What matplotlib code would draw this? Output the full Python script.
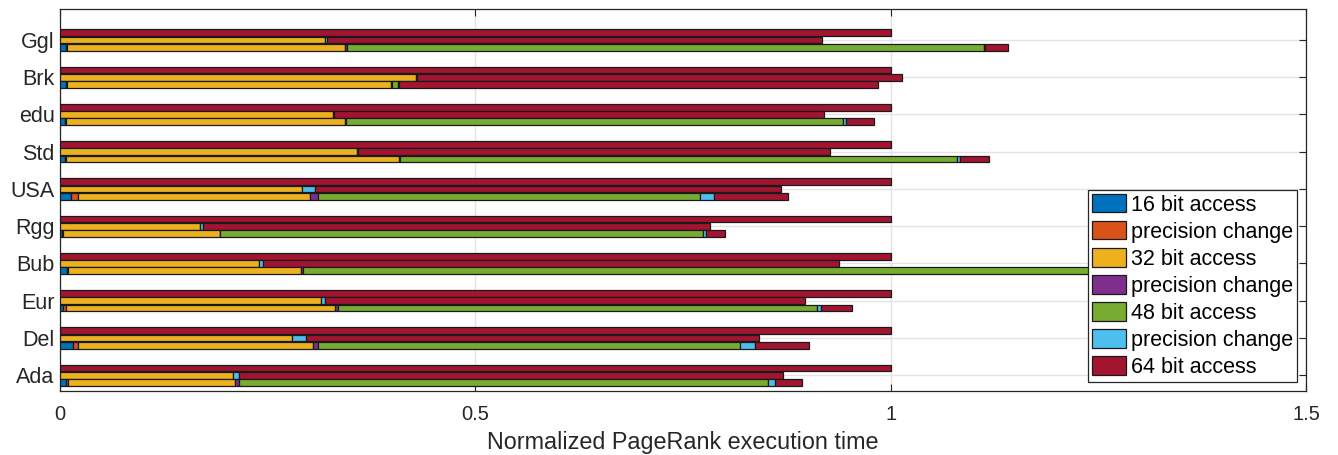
import matplotlib
matplotlib.use("Agg")
import matplotlib.pyplot as plt
from matplotlib.patches import Patch
import numpy as np

plt.rcParams['font.family'] = ['Liberation Sans', 'DejaVu Sans']

# categories, bottom to top
categories = ["Ada", "Del", "Eur", "Bub", "Rgg", "USA", "Std", "edu", "Brk", "Ggl"]

# top bar: pure 64-bit baseline
baseline_64 = [1.0, 1.0, 1.0, 1.0, 1.0, 1.0, 1.0, 1.0, 1.0, 1.0]

# middle bar: 32-bit -> 64-bit
mid_32 = [0.208, 0.279, 0.3145, 0.239, 0.169, 0.291, 0.357, 0.328, 0.428, 0.319]
mid_pc = [0.008, 0.017, 0.0045, 0.005, 0.003, 0.016, 0.002, 0.002, 0.002, 0.002]
mid_64 = [0.654, 0.545, 0.578, 0.694, 0.610, 0.561, 0.568, 0.590, 0.583, 0.596]

# bottom bar: 16 -> 32 -> 48 -> 64
low_16 = [0.007, 0.015, 0.004, 0.008, 0.002, 0.013, 0.006, 0.006, 0.007, 0.007]
low_pc1 = [0.003, 0.006, 0.003, 0.002, 0.001, 0.008, 0.001, 0.001, 0.001, 0.001]
low_32 = [0.201, 0.284, 0.324, 0.280, 0.189, 0.280, 0.401, 0.336, 0.391, 0.335]
low_pc2 = [0.004, 0.006, 0.003, 0.003, 0.001, 0.009, 0.001, 0.001, 0.001, 0.002]
low_48 = [0.637, 0.508, 0.577, 1.150, 0.581, 0.461, 0.671, 0.599, 0.007, 0.767]
low_pc3 = [0.009, 0.018, 0.005, 0.005, 0.004, 0.016, 0.003, 0.003, 0.001, 0.002]
low_64 = [0.032, 0.065, 0.037, 0.040, 0.022, 0.089, 0.035, 0.034, 0.577, 0.027]

legend_labels = ["16 bit access", "precision change", "32 bit access",
                 "precision change", "48 bit access", "precision change",
                 "64 bit access"]
colors = ["#0072BD", "#D95319", "#EDB120", "#7E2F8E", "#77AC30", "#4DBEEE", "#A2142F"]
C16, CPC1, C32, CPC2, C48, CPC3, C64 = colors

fig = plt.figure(figsize=(13.38, 4.55), dpi=100)
ax = fig.add_axes([0.0449, 0.141, 0.9312, 0.839])

y = np.arange(len(categories))
off = 0.196
h = 0.18
ekw = dict(edgecolor="#1a1a1a", linewidth=0.9, zorder=3)

def stack(ypos, segs):
    left = np.zeros(len(categories))
    for vals, col in segs:
        v = np.array(vals, dtype=float)
        ax.barh(ypos, v, height=h, left=left, color=col, **ekw)
        left = left + v

stack(y + off, [(baseline_64, C64)])
stack(y, [(mid_32, C32), (mid_pc, CPC3), (mid_64, C64)])
stack(y - off, [(low_16, C16), (low_pc1, CPC1), (low_32, C32), (low_pc2, CPC2),
                (low_48, C48), (low_pc3, CPC3), (low_64, C64)])

ax.set_xlim(0, 1.5)
ax.set_ylim(-0.42, 9.83)
ax.set_xticks([0, 0.5, 1, 1.5])
ax.set_xticklabels(["0", "0.5", "1", "1.5"])
ax.set_yticks(y)
ax.set_yticklabels(categories)
ax.tick_params(axis="both", direction="in", labelsize=14.5, top=True, right=True,
               length=5, width=0.8, color="#262626", labelcolor="#262626")
ax.tick_params(axis="y", labelsize=15.5, pad=4)
ax.tick_params(axis="x", pad=10)
ax.grid(True, color="#e3e3e3", linewidth=1.0, zorder=0)
ax.set_axisbelow(True)
for s in ax.spines.values():
    s.set_color("#262626")
    s.set_linewidth(0.9)
ax.set_xlabel("Normalized PageRank execution time", fontsize=16.8, color="#262626", labelpad=5)

handles = [Patch(facecolor=c, edgecolor="#1a1a1a", linewidth=0.9) for c in colors]
leg = ax.legend(handles, legend_labels, loc="lower right", fontsize=15.5,
                frameon=True, fancybox=False, edgecolor="#262626", framealpha=1.0,
                handlelength=1.55, handleheight=0.95, handletextpad=0.25,
                labelspacing=0.25, borderpad=0.2, borderaxespad=0.4)
leg.get_frame().set_linewidth(0.9)
leg.set_zorder(5)

fig.savefig("out.png", dpi=100)
